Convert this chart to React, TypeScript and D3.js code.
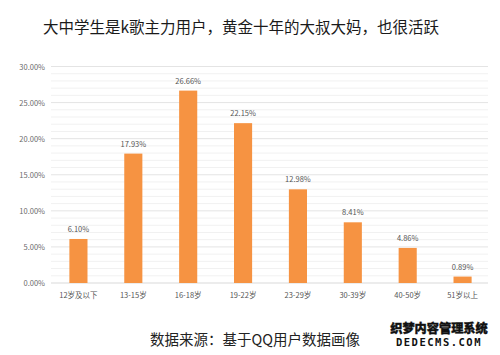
import React from "react";
import * as d3 from "d3";

const categories = ["12岁及以下", "13-15岁", "16-18岁", "19-22岁", "23-29岁", "30-39岁", "40-50岁", "51岁以上"];
const values = [6.1, 17.93, 26.66, 22.15, 12.98, 8.41, 4.86, 0.89];
const yTicks = [0, 5, 10, 15, 20, 25, 30];
const minorTicks = d3.range(0, 31, 1);
const title = "大中学生是k歌主力用户，黄金十年的大叔大妈，也很活跃";
const source = "数据来源：基于QQ用户数据画像";

export default function App() {
  const W = 500, H = 355;
  const x = d3.scaleBand<string>().domain(categories).range([51, 490]).paddingInner(0.67).paddingOuter(0.335);
  const y = d3.scaleLinear().domain([0, 30]).range([283, 66.5]);
  const font = "'Noto Sans CJK SC', 'Noto Sans', sans-serif";
  return (
    <svg width={W} height={H} style={{ position: "absolute", left: 0, top: 0, background: "#fff" }} fontFamily={font}>
      <rect width={W} height={H} fill="#fff" />
      <text x={241} y={33} textAnchor="middle" fontSize={15.5} fill="#1a1a1a">{title}</text>
      {minorTicks.filter(t => t % 5 !== 0).map(t => (
        <line key={"m" + t} x1={51} x2={488} y1={y(t)} y2={y(t)} stroke="#f1f1f1" strokeWidth={1} />
      ))}
      {yTicks.map(t => (
        <g key={t}>
          <line x1={51} x2={488} y1={y(t)} y2={y(t)} stroke={t === 0 ? "#d9d9d9" : "#e4e4e4"} strokeWidth={1} />
          <text x={45} y={y(t) + 3} textAnchor="end" fontSize={7.5} fill="#6a6a6a">{t.toFixed(2) + "%"}</text>
        </g>
      ))}
      {categories.map((c, i) => (
        <g key={c}>
          <rect x={x(c)} y={y(values[i])} width={x.bandwidth()} height={y(0) - y(values[i])} fill="#F69342" />
          <text x={(x(c) as number) + x.bandwidth() / 2} y={y(values[i]) - 7} textAnchor="middle" fontSize={7.5} fill="#555">{values[i].toFixed(2) + "%"}</text>
          <text x={(x(c) as number) + x.bandwidth() / 2} y={298} textAnchor="middle" fontSize={7.5} fill="#555">{c}</text>
        </g>
      ))}
      <text x={255} y={345} textAnchor="middle" fontSize={14.5} fill="#222">{source}</text>
      <text x={439} y={333} textAnchor="middle" fontSize={12.2} fontWeight={900} fill="#111" stroke="#111" strokeWidth={0.4}>织梦内容管理系统</text>
      <text x={439} y={346} textAnchor="middle" fontSize={10.5} fontWeight="bold" fill="#111" letterSpacing={1.5} fontFamily="'DejaVu Sans Mono', monospace">DEDECMS.COM</text>
    </svg>
  );
}
